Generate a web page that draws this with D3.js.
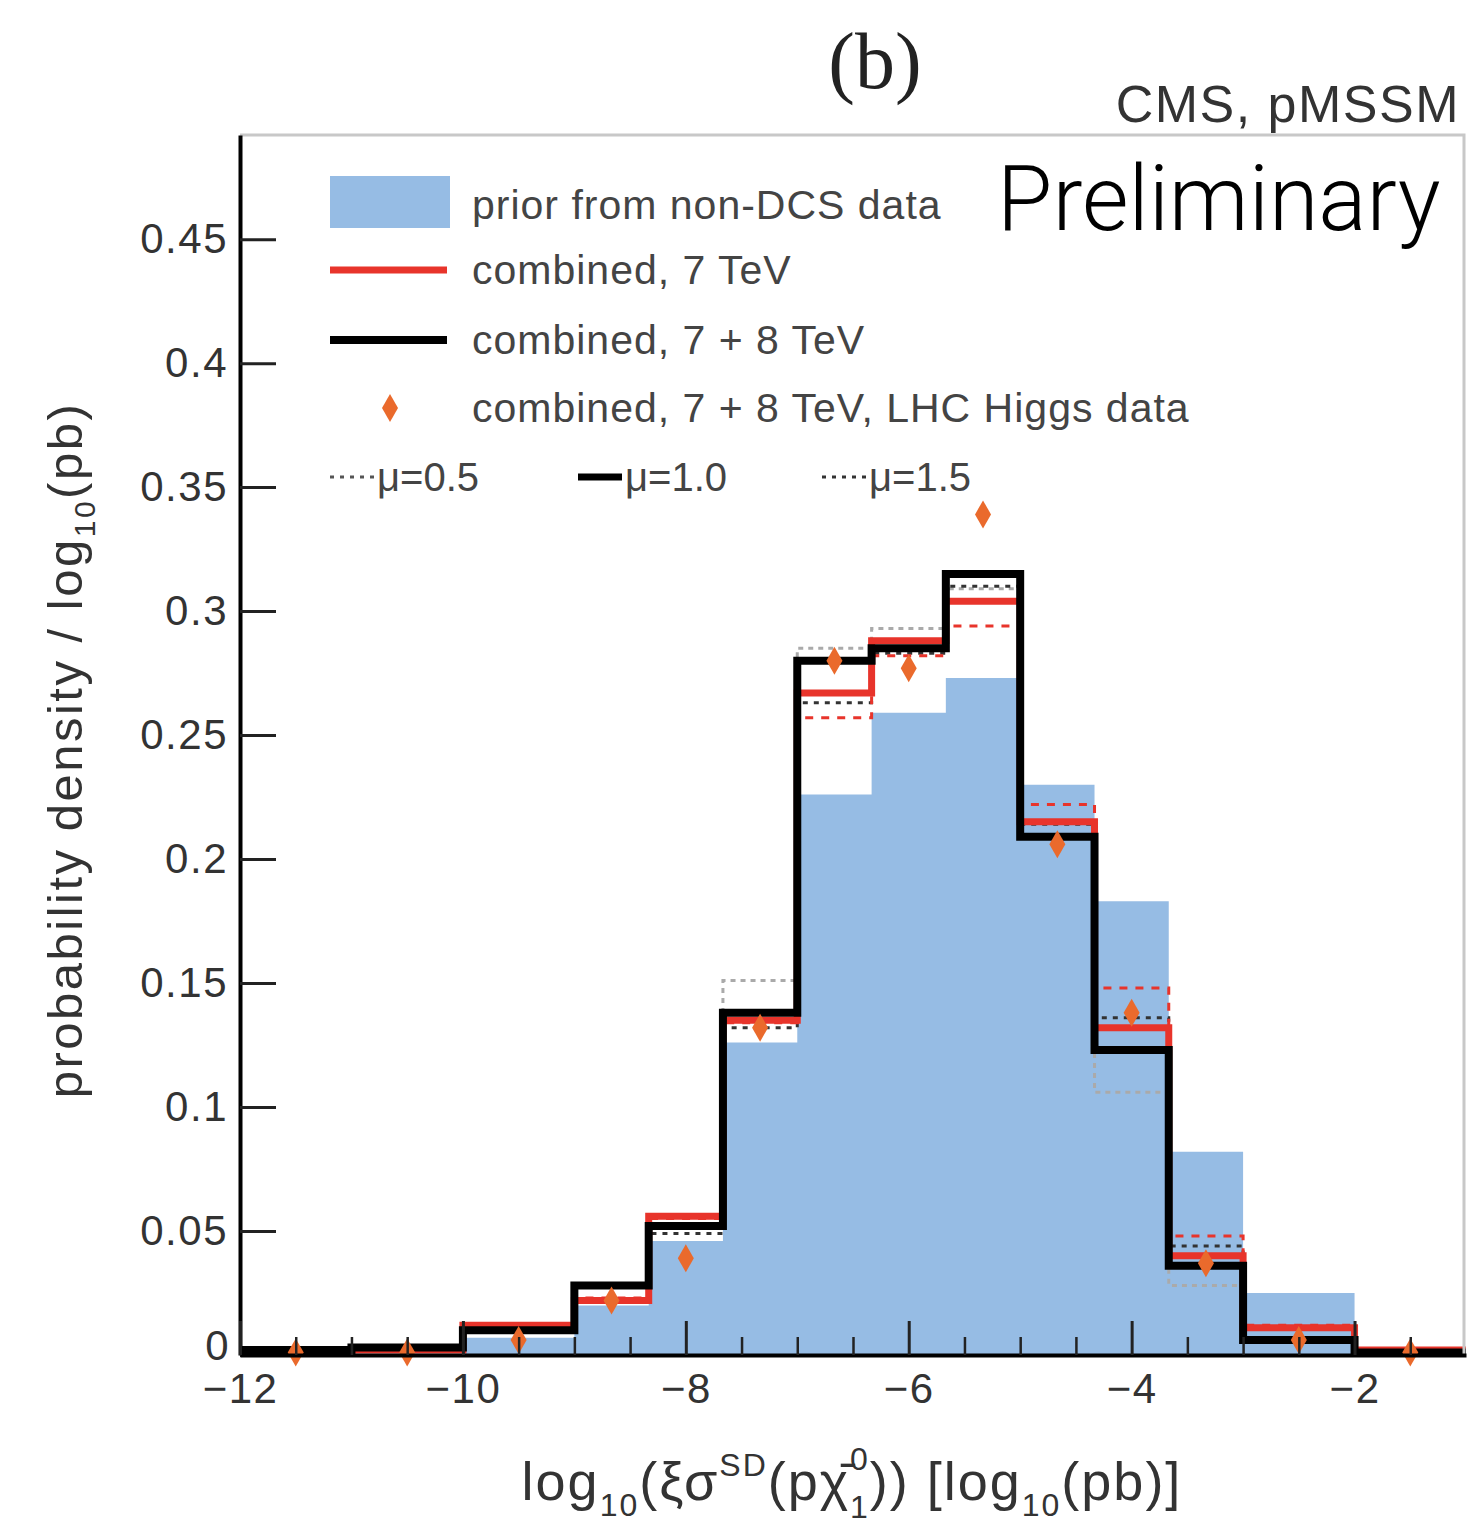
<!DOCTYPE html>
<html>
<head>
<meta charset="utf-8">
<script src="https://cdn.jsdelivr.net/npm/d3@7"></script>
<style>
  body { margin: 0; background: #fff; }
  svg { font-family: "Liberation Sans", Arial, sans-serif; }
</style>
</head>
<body>
<div id="chart"></div>
<script>
let width = 1470,
    height = 1530,
    margin = ({ top: 135, right: 4, bottom: 175, left: 240 });

// bin edges on log10(xi sigma) axis
const edges = [-12, -11, -10, -9, -8.333, -7.667, -7, -6.333, -5.667, -5, -4.333, -3.667, -3, -2, -1];

// prior from non-DCS data (filled)
const prior = [0.0005, 0.0005, 0.007, 0.020, 0.046, 0.126, 0.226, 0.259, 0.273, 0.230, 0.183, 0.082, 0.025, 0.002];
// combined 7 TeV, mu = 1.0 / 1.5
const red10 = [0.001, 0.002, 0.012, 0.022, 0.056, 0.135, 0.267, 0.288, 0.304, 0.215, 0.132, 0.040, 0.011, 0.002];
const red15 = [0.001, 0.002, 0.011, 0.023, 0.055, 0.134, 0.257, 0.282, 0.294, 0.222, 0.148, 0.048, 0.012, 0.002];
// combined 7 + 8 TeV, mu = 0.5 / 1.0 / 1.5
const blk05 = [0.002, 0.003, 0.010, 0.028, 0.052, 0.151, 0.285, 0.293, 0.309, 0.215, 0.106, 0.028, 0.006, 0.001];
const blk10 = [0.002, 0.003, 0.010, 0.028, 0.052, 0.138, 0.280, 0.285, 0.315, 0.209, 0.123, 0.036, 0.006, 0.001];
const blk15 = [0.002, 0.003, 0.010, 0.028, 0.049, 0.132, 0.263, 0.283, 0.310, 0.214, 0.136, 0.044, 0.007, 0.001];
// combined 7 + 8 TeV with LHC Higgs data (points at bin centres)
const higgs = [0.001, 0.001, 0.006, 0.022, 0.039, 0.132, 0.280, 0.277, 0.339, 0.206, 0.138, 0.037, 0.006, 0.001];

const yTicks = [0, 0.05, 0.1, 0.15, 0.2, 0.25, 0.3, 0.35, 0.4, 0.45];
const xTicks = [-12, -10, -8, -6, -4, -2];
const xMinor = [-11.5, -11, -10.5, -9.5, -9, -8.5, -7.5, -7, -6.5, -5.5, -5, -4.5, -3.5, -3, -2.5, -1.5];

const legendRows = ["prior from non-DCS data", "combined, 7 TeV", "combined, 7 + 8 TeV", "combined, 7 + 8 TeV, LHC Higgs data"];

const svg = d3.select("#chart")
  .append("svg")
  .attr("width", width)
  .attr("height", height);

let x = d3.scaleLinear()
  .domain([-12, -1])
  .range([margin.left, width - margin.right]);

let y = d3.scaleLinear()
  .domain([0, 0.492])
  .range([height - margin.bottom, margin.top]);

svg.append("clipPath").attr("id", "plot")
  .append("rect")
  .attr("x", x(-12)).attr("y", y(0.492))
  .attr("width", x(-1) - x(-12)).attr("height", y(0) - y(0.492));

// step points: one per bin plus a closing point at the last edge
function steps(vals) {
  let pts = vals.map((v, i) => ({ e: edges[i], v: v }));
  pts.push({ e: edges[edges.length - 1], v: vals[vals.length - 1] });
  return pts;
}

let area = d3.area()
  .curve(d3.curveStepAfter)
  .x(d => x(d.e))
  .y0(y(0))
  .y1(d => y(d.v));

let line = d3.line()
  .curve(d3.curveStepAfter)
  .x(d => x(d.e))
  .y(d => y(d.v));

let g = svg.append("g").attr("clip-path", "url(#plot)");

g.append("path")
  .datum(steps(prior))
  .attr("fill", "#96bce4")
  .attr("d", area);

let hists = [
  { vals: blk05, stroke: "#aaa", w: 3, dash: "5,5" },
  { vals: blk15, stroke: "#333", w: 3, dash: "5,6" },
  { vals: red15, stroke: "#e8342b", w: 3, dash: "8,8" },
  { vals: red10, stroke: "#e8342b", w: 7, dash: null },
  { vals: blk10, stroke: "#000", w: 8, dash: null }
];

for (let h of hists) {
  g.append("path")
    .datum(steps(h.vals))
    .attr("fill", "none")
    .attr("stroke", h.stroke)
    .attr("stroke-width", h.w)
    .attr("stroke-dasharray", h.dash)
    .attr("d", line);
}

let diamond = "M0,-14 L8,0 L0,14 L-8,0 Z";

svg.append("g")
  .selectAll("path")
  .data(higgs)
  .join("path")
  .attr("transform", (d, i) => `translate(${x((edges[i] + edges[i + 1]) / 2)},${y(d)})`)
  .attr("d", diamond)
  .attr("fill", "#ea6a2c");

// frame
svg.append("path")
  .attr("d", `M${x(-12)},${y(0.492)}H${x(-1) - 2}V${y(0)}`)
  .attr("fill", "none")
  .attr("stroke", "#c8c8c8")
  .attr("stroke-width", 3);

// axes
let yAxis = svg.append("g")
  .attr("transform", `translate(${x(-12)},0)`)
  .call(d3.axisLeft(y).tickValues(yTicks).tickSizeInner(-36).tickSizeOuter(0).tickPadding(12)
    .tickFormat(d3.format("~g")));

let xAxis = svg.append("g")
  .attr("transform", `translate(0,${y(0)})`)
  .call(d3.axisBottom(x).tickValues(xTicks).tickSizeInner(-34).tickSizeOuter(0).tickPadding(18));

svg.append("g")
  .attr("transform", `translate(0,${y(0)})`)
  .call(d3.axisBottom(x).tickValues(xMinor).tickSize(-18).tickFormat(""))
  .call(g => g.select(".domain").remove())
  .selectAll("line").attr("stroke", "#222").attr("stroke-width", 2.5);

for (let a of [yAxis, xAxis]) {
  a.select(".domain").attr("stroke", "#000").attr("stroke-width", 4);
  a.selectAll(".tick line").attr("stroke", "#222").attr("stroke-width", 3);
  a.selectAll(".tick text")
    .style("font-family", "Liberation Sans, Arial, sans-serif")
    .attr("font-size", 42)
    .attr("fill", "#333")
    .attr("letter-spacing", 1.5);
}
// lift the "0" label a little off the "-12" label
yAxis.selectAll(".tick text").filter(d => d === 0).attr("dy", "0.1em").attr("x", -10);

// axis titles
let yt = svg.append("text")
  .attr("transform", `translate(82,750) rotate(-90)`)
  .attr("text-anchor", "middle")
  .attr("font-size", 49)
  .attr("letter-spacing", 2.5)
  .attr("fill", "#333");
yt.append("tspan").text("probability density / log");
yt.append("tspan").attr("font-size", 30).attr("dy", 13).text("10");
yt.append("tspan").attr("dy", -13).text("(pb)");

let xt = svg.append("text")
  .attr("x", 852)
  .attr("y", 1500)
  .attr("text-anchor", "middle")
  .attr("font-size", 54)
  .attr("letter-spacing", 2)
  .attr("fill", "#333");
xt.append("tspan").text("log");
xt.append("tspan").attr("font-size", 32).attr("dy", 16).text("10");
xt.append("tspan").attr("dy", -16).text("(ξσ");
xt.append("tspan").attr("font-size", 32).attr("dy", -24).text("SD");
xt.append("tspan").attr("dy", 24).text("(pχ\u0304");
xt.append("tspan").attr("font-size", 32).attr("dy", -30).text("0");
xt.append("tspan").attr("font-size", 32).attr("dx", -20).attr("dy", 48).text("1");
xt.append("tspan").attr("dy", -18).text(")) [log");
xt.append("tspan").attr("font-size", 32).attr("dy", 16).text("10");
xt.append("tspan").attr("dy", -16).text("(pb)]");

// headers
svg.append("text")
  .attr("x", 875).attr("y", 88)
  .attr("text-anchor", "middle")
  .style("font-family", "'Liberation Serif', 'DejaVu Serif', serif")
  .attr("font-size", 80)
  .attr("fill", "#222")
  .text("(b)");

svg.append("text")
  .attr("x", 1460).attr("y", 122)
  .attr("text-anchor", "end")
  .attr("font-size", 52)
  .attr("letter-spacing", 1.5)
  .attr("fill", "#333")
  .text("CMS, pMSSM");

svg.append("text")
  .attr("x", 997).attr("y", 230)
  .style("font-family", "Roboto, sans-serif")
  .style("font-weight", 300)
  .attr("font-size", 90)
  .attr("fill", "#000")
  .text("Preliminary");

// legend
let leg = svg.append("g");
let rowY = [205, 270, 340, 408];

leg.append("rect")
  .attr("x", 330).attr("y", 176).attr("width", 120).attr("height", 52)
  .attr("fill", "#96bce4");
leg.append("line")
  .attr("x1", 330).attr("x2", 447).attr("y1", rowY[1]).attr("y2", rowY[1])
  .attr("stroke", "#e8342b").attr("stroke-width", 7);
leg.append("line")
  .attr("x1", 330).attr("x2", 447).attr("y1", rowY[2]).attr("y2", rowY[2])
  .attr("stroke", "#000").attr("stroke-width", 8);
leg.append("path")
  .attr("transform", `translate(390,${rowY[3]})`)
  .attr("d", diamond)
  .attr("fill", "#ea6a2c");

leg.selectAll("text.row")
  .data(legendRows)
  .join("text")
  .attr("class", "row")
  .attr("x", 472)
  .attr("y", (d, i) => rowY[i] + 14)
  .attr("font-size", 41)
  .attr("letter-spacing", 1)
  .attr("fill", "#444")
  .text(d => d);

let muRows = [
  { x: 330, label: "μ=0.5", dash: "4,6", w: 3, stroke: "#555" },
  { x: 578, label: "μ=1.0", dash: null, w: 7, stroke: "#000" },
  { x: 822, label: "μ=1.5", dash: "4,6", w: 3, stroke: "#333" }
];
for (let m of muRows) {
  leg.append("line")
    .attr("x1", m.x).attr("x2", m.x + 44)
    .attr("y1", 477).attr("y2", 477)
    .attr("stroke", m.stroke).attr("stroke-width", m.w)
    .attr("stroke-dasharray", m.dash);
  leg.append("text")
    .attr("x", m.x + 47).attr("y", 491)
    .attr("font-size", 40)
    .attr("fill", "#444")
    .text(m.label);
}
</script>
</body>
</html>
